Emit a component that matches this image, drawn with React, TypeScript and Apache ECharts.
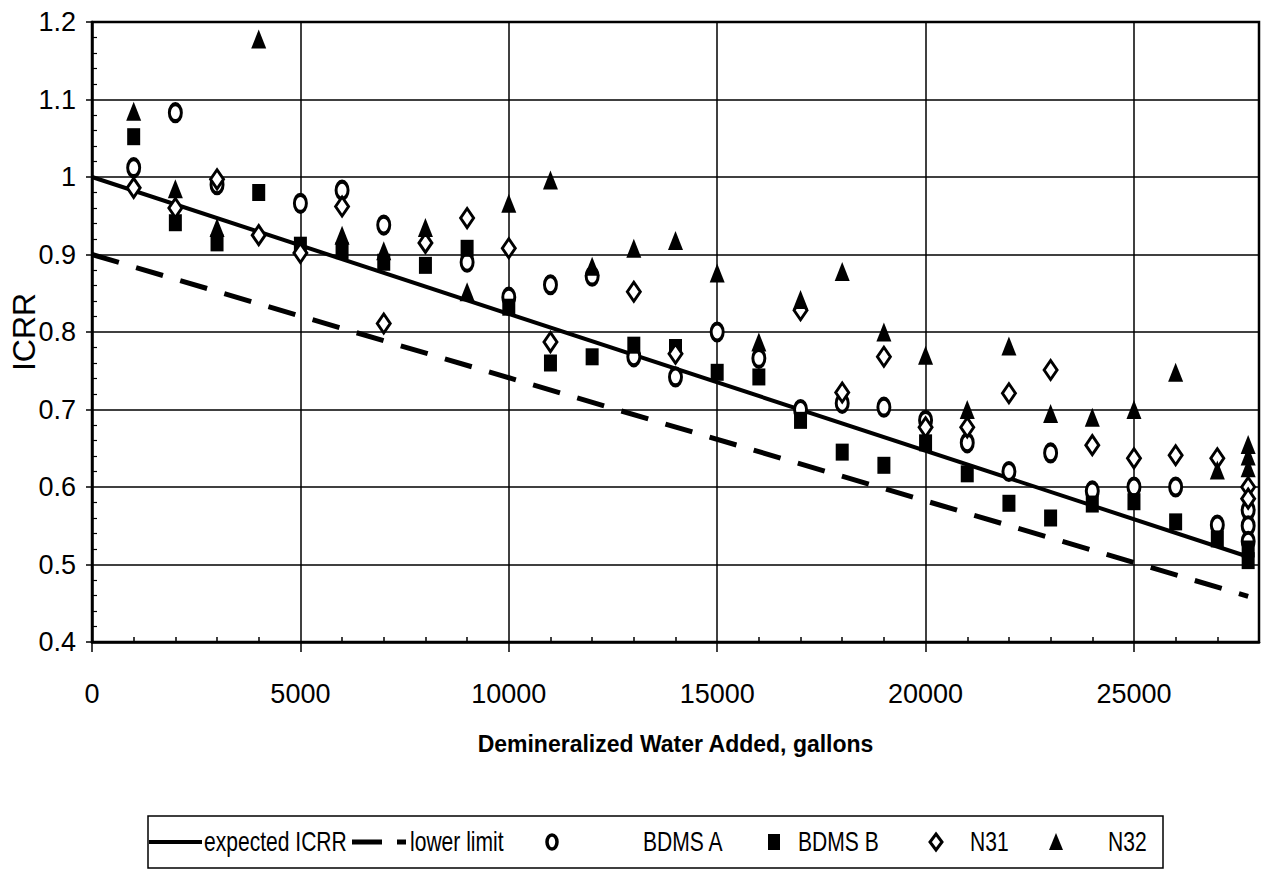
import React, { useEffect, useRef } from "react";
import * as echarts from "echarts";

// ---- data (gallons of demineralized water added vs ICRR) ----
const expectedX = [0, 27740];
const expectedY = [1.0, 0.51];
const lowerX = [0, 27740];
const lowerY = [0.9, 0.459];

const bdmsAX = [1000, 2000, 3000, 5000, 6000, 7000, 9000, 10000, 11000, 12000, 13000, 14000, 15000, 16000, 17000, 18000, 19000, 20000, 21000, 22000, 23000, 24000, 25000, 26000, 27000, 27740, 27740, 27740];
const bdmsAY = [1.012, 1.083, 0.99, 0.966, 0.983, 0.938, 0.89, 0.845, 0.861, 0.872, 0.768, 0.742, 0.8, 0.766, 0.7, 0.708, 0.703, 0.686, 0.657, 0.62, 0.644, 0.595, 0.6, 0.6, 0.551, 0.57, 0.55, 0.53];

const bdmsBX = [1000, 2000, 3000, 4000, 5000, 6000, 7000, 8000, 9000, 10000, 11000, 12000, 13000, 14000, 15000, 16000, 17000, 18000, 19000, 20000, 21000, 22000, 23000, 24000, 25000, 26000, 27000, 27740, 27740];
const bdmsBY = [1.052, 0.941, 0.915, 0.98, 0.912, 0.905, 0.89, 0.886, 0.908, 0.832, 0.76, 0.768, 0.783, 0.78, 0.748, 0.742, 0.686, 0.645, 0.628, 0.657, 0.617, 0.579, 0.56, 0.578, 0.581, 0.555, 0.533, 0.52, 0.505];

const n31X = [1000, 2000, 3000, 4000, 5000, 6000, 7000, 8000, 9000, 10000, 11000, 13000, 14000, 17000, 18000, 19000, 20000, 21000, 22000, 23000, 24000, 25000, 26000, 27000, 27740, 27740];
const n31Y = [0.986, 0.96, 0.997, 0.925, 0.902, 0.962, 0.811, 0.915, 0.947, 0.908, 0.787, 0.852, 0.772, 0.828, 0.722, 0.768, 0.677, 0.677, 0.721, 0.751, 0.654, 0.637, 0.641, 0.637, 0.6, 0.585];

const n32X = [1000, 2000, 3000, 4000, 6000, 7000, 8000, 9000, 10000, 11000, 12000, 13000, 14000, 15000, 16000, 17000, 18000, 19000, 20000, 21000, 22000, 23000, 24000, 25000, 26000, 27000, 27740, 27740, 27740];
const n32Y = [1.085, 0.985, 0.935, 1.178, 0.925, 0.905, 0.935, 0.852, 0.966, 0.996, 0.885, 0.908, 0.918, 0.876, 0.787, 0.842, 0.878, 0.8, 0.77, 0.7, 0.782, 0.695, 0.69, 0.7, 0.748, 0.622, 0.655, 0.64, 0.625];

const xName = "Demineralized Water Added, gallons";
const yName = "ICRR";
const legendNames = ["expected ICRR", "lower limit", "BDMS A", "BDMS B", "N31", "N32"];

const pair = (xs: number[], ys: number[]) => xs.map((x, i) => [x, ys[i]]);

const FONT = '"Liberation Sans", Arial, sans-serif';
const ELLIPSE = "path://M6,0 A6,8 0 1,1 6,16 A6,8 0 1,1 6,0 Z";

function legendGraphic() {
  const black = "#000";
  const cy = 842;
  const txt = (x: number, s: string) => ({
    type: "text",
    x,
    y: cy,
    scaleX: 0.78,
    style: { text: s, fontSize: 27, fontFamily: FONT, fill: black, align: "left", verticalAlign: "middle" },
  });
  return [
    { type: "rect", shape: { x: 148, y: 816, width: 1015, height: 52 }, style: { fill: "#fff", stroke: black, lineWidth: 1.5 } },
    { type: "line", shape: { x1: 149, y1: cy, x2: 202, y2: cy }, style: { stroke: black, lineWidth: 4 } },
    txt(204, legendNames[0]),
    { type: "line", shape: { x1: 352, y1: cy, x2: 406, y2: cy }, style: { stroke: black, lineWidth: 5, lineDash: [30, 15] } },
    txt(410, legendNames[1]),
    { type: "ellipse", shape: { cx: 552, cy, rx: 5, ry: 7 }, style: { fill: "#fff", stroke: black, lineWidth: 3.5 } },
    txt(643, legendNames[2]),
    { type: "rect", shape: { x: 768, y: cy - 8, width: 12, height: 16 }, style: { fill: black } },
    txt(798, legendNames[3]),
    { type: "polygon", shape: { points: [[936, cy - 8], [942, cy], [936, cy + 8], [930, cy]] }, style: { fill: "#fff", stroke: black, lineWidth: 3 } },
    txt(970, legendNames[4]),
    { type: "polygon", shape: { points: [[1056, cy - 9], [1063, cy + 8], [1049, cy + 8]] }, style: { fill: black } },
    txt(1108, legendNames[5]),
  ];
}

export default function App() {
  const ref = useRef<HTMLDivElement>(null);
  useEffect(() => {
    document.body.style.margin = "0";
    if (!ref.current) return;
    const chart = echarts.init(ref.current, undefined, { renderer: "svg" });
    const black = "#000";
    const axisBase = {
      type: "value" as const,
      axisLine: { show: true, lineStyle: { color: black, width: 2.5 } },
      splitLine: { show: true, lineStyle: { color: black, width: 1.5 } },
    };
    chart.setOption({
      animation: false,
      backgroundColor: "#fff",
      textStyle: { fontFamily: FONT, color: black },
      grid: {
        left: 92,
        top: 22,
        width: 1167,
        height: 620,
        show: true,
        borderColor: black,
        borderWidth: 2.5,
        backgroundColor: "transparent",
        outerBoundsMode: "none",
        containLabel: false,
      },
      xAxis: [
        {
          ...axisBase,
          min: 0,
          max: 28000,
          interval: 5000,
          axisTick: { show: true, length: 10, lineStyle: { color: black, width: 1.5 } },
          axisLabel: { color: black, fontSize: 27, fontFamily: FONT, margin: 38, showMaxLabel: false, formatter: (v: number) => String(v) },
          name: xName,
          nameLocation: "middle",
          nameGap: 90,
          nameMoveOverlap: false,
          nameTextStyle: { color: black, fontSize: 23, fontWeight: "bold", fontFamily: FONT },
        },
        {
          type: "value",
          position: "bottom",
          min: 0,
          max: 28000,
          interval: 5000,
          axisLine: { show: false },
          axisLabel: { show: false },
          axisTick: { show: false, inside: true },
          minorTick: { show: true, splitNumber: 5, length: 5, lineStyle: { color: black, width: 1.5 } },
          splitLine: { show: false },
        },
      ],
      yAxis: [
        {
          ...axisBase,
          min: 0.4,
          max: 1.2,
          interval: 0.1,
          axisTick: { show: true, length: 6, lineStyle: { color: black, width: 1.5 } },
          axisLabel: { color: black, fontSize: 27, fontFamily: FONT, margin: 16 },
          name: yName,
          nameLocation: "middle",
          nameRotate: 90,
          nameGap: 52,
          nameMoveOverlap: false,
          nameTextStyle: { color: black, fontSize: 32, fontFamily: FONT },
        },
        {
          type: "value",
          position: "left",
          min: 0.4,
          max: 1.2,
          interval: 0.1,
          axisLine: { show: false },
          axisLabel: { show: false },
          axisTick: { show: false, inside: true },
          minorTick: { show: true, splitNumber: 5, length: 5, lineStyle: { color: black, width: 1.2 } },
          splitLine: { show: false },
        },
      ],
      graphic: legendGraphic(),
      series: [
        {
          name: legendNames[0],
          type: "line",
          data: pair(expectedX, expectedY),
          symbol: "none",
          lineStyle: { color: black, width: 4 },
          itemStyle: { color: black },
          z: 3,
        },
        {
          name: legendNames[1],
          type: "line",
          data: pair(lowerX, lowerY),
          symbol: "none",
          lineStyle: { color: black, width: 5, type: [28, 18] },
          itemStyle: { color: black },
          z: 3,
        },
        {
          name: legendNames[2],
          type: "scatter",
          data: pair(bdmsAX, bdmsAY),
          symbol: ELLIPSE,
          symbolSize: [12, 17],
          itemStyle: { color: "#fff", borderColor: black, borderWidth: 3.5, opacity: 1 },
          z: 4,
        },
        {
          name: legendNames[3],
          type: "scatter",
          data: pair(bdmsBX, bdmsBY),
          symbol: "rect",
          symbolSize: [13, 17],
          itemStyle: { color: black, opacity: 1 },
          z: 4,
        },
        {
          name: legendNames[4],
          type: "scatter",
          data: pair(n31X, n31Y),
          symbol: "diamond",
          symbolSize: [13, 19],
          itemStyle: { color: "#fff", borderColor: black, borderWidth: 3, opacity: 1 },
          z: 4,
        },
        {
          name: legendNames[5],
          type: "scatter",
          data: pair(n32X, n32Y),
          symbol: "triangle",
          symbolSize: [15, 19],
          itemStyle: { color: black, opacity: 1 },
          z: 4,
        },
      ],
    });
    return () => chart.dispose();
  }, []);
  return <div ref={ref} style={{ width: 1262, height: 873 }} />;
}
